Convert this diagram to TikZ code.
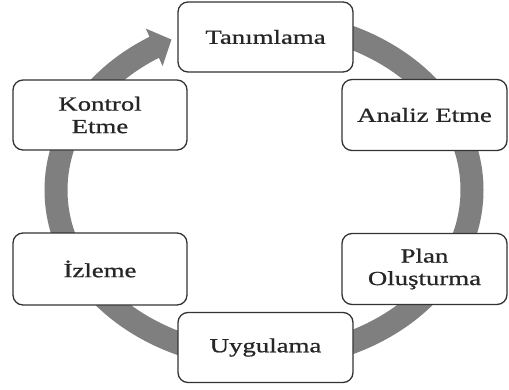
\documentclass[tikz,border=0pt]{standalone}
\usepackage{fontspec}
\setmainfont{Liberation Serif}[FakeStretch=1.34,FakeBold=0.8]
\usetikzlibrary{arrows.meta,bending}
\definecolor{ringgray}{HTML}{7F7F7F}
\definecolor{boxline}{HTML}{333333}
\tikzset{
  stepbox/.style={draw=boxline, line width=1.3pt, fill=white, rounded corners=10pt,
    align=center, inner sep=0pt, text=black!85, font=\fontsize{20}{22.5}\selectfont},
  wide/.style={stepbox, minimum width=175pt, minimum height=70pt},
  narrow/.style={stepbox, minimum width=165pt, minimum height=71pt},
  ring/.style={draw=ringgray, line width=23pt,
    -{Triangle[width=40pt,length=19pt]}}
}
\begin{document}
\begin{tikzpicture}[x=1pt,y=-1pt]
  \useasboundingbox[fill=white] (0,0) rectangle (509,389);
  % cycle ring, running clockwise and ending in the head near the top
  \draw[ring] (264,22) arc[start angle=-90, end angle=243.6, x radius=208, y radius=168];
  % steps of the cycle
  \node[wide]   (tanim)   at (265.5,37)  {Tanımlama};
  \node[narrow] (analiz)  at (424.5,115) {Analiz Etme};
  \node[narrow] (plan)    at (424.5,269) {Plan\\Oluşturma};
  \node[wide]   (uygula)  at (265.5,347.5) {Uygulama};
  \node[stepbox, minimum width=174pt, minimum height=72pt] (izle) at (100,269) {İzleme};
  \node[stepbox, minimum width=174pt, minimum height=70pt] (kontrol) at (100,115) {Kontrol\\Etme};
\end{tikzpicture}
\end{document}
